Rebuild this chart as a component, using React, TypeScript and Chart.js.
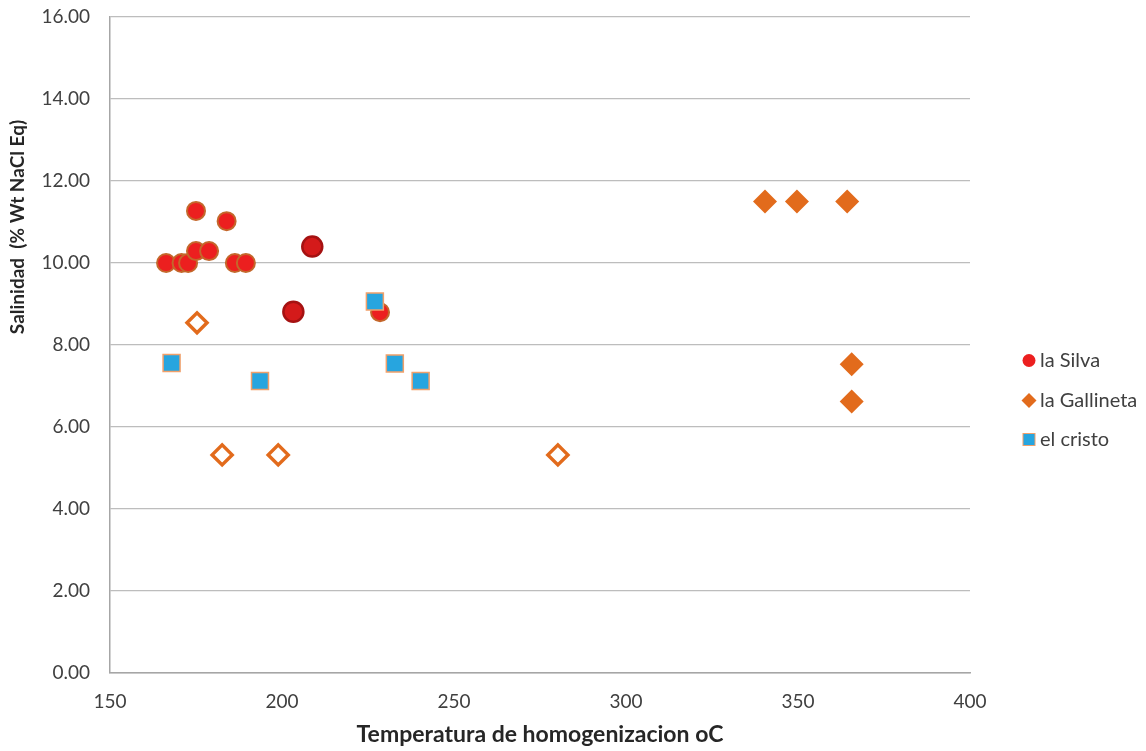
import { useEffect, useRef } from "react";
import { Chart, registerables } from "chart.js";

Chart.register(...registerables);

// la Silva
const silvaX = [166.3, 170.8, 172.7, 175.0, 183.9, 175.0, 178.8, 186.3, 189.5, 208.8, 203.3, 228.5];
const silvaY = [10.0, 10.0, 10.0, 11.27, 11.02, 10.29, 10.29, 10.0, 10.0, 10.4, 8.81, 8.8];
const silvaDark = [false, false, false, false, false, false, false, false, false, true, true, false];

// la Gallineta (filled and open diamonds)
const gallX = [340.4, 349.7, 364.3, 365.6, 365.6, 175.3, 182.6, 198.9, 280.2];
const gallY = [11.5, 11.5, 11.5, 7.53, 6.62, 8.54, 5.32, 5.32, 5.32];
const gallOpen = [false, false, false, false, false, true, true, true, true];

// el cristo
const cristoX = [167.9, 193.6, 227.0, 232.8, 240.3];
const cristoY = [7.56, 7.12, 9.06, 7.55, 7.12];

const seriesNames = ["la Silva", "la Gallineta", "el cristo"];
const xTitle = "Temperatura de homogenizacion oC";
const yTitle = "Salinidad  (% Wt NaCl Eq)";

const FONT = "Lato, 'Open Sans', sans-serif";
const RED = "#ec1f1f";
const RED_BORDER = "#c4672b";
const DARK_RED = "#d41a1a";
const DARK_RED_BORDER = "#a51212";
const ORANGE = "#e26b1c";
const BLUE = "#27a5df";
const BLUE_BORDER = "#f1a06a";

export default function App() {
  const ref = useRef<HTMLCanvasElement>(null);

  useEffect(() => {
    document.body.style.margin = "0";
    const canvas = ref.current!;

    const overlay = {
      id: "overlay",
      afterDraw(chart: any) {
        const ctx = chart.ctx as CanvasRenderingContext2D;
        const area = chart.chartArea;
        ctx.save();
        ctx.fillStyle = "#262626";
        ctx.textAlign = "center";
        ctx.textBaseline = "middle";
        ctx.font = `bold 23px ${FONT}`;
        ctx.fillText(xTitle, (area.left + area.right) / 2, 735);
        ctx.save();
        ctx.translate(18, 227);
        ctx.rotate(-Math.PI / 2);
        ctx.font = `bold 19px ${FONT}`;
        ctx.fillText(yTitle, 0, 0);
        ctx.restore();

        // legend
        const mx = 1029;
        const tx = 1040;
        const ys = [360.5, 400.5, 439.5];
        ctx.font = `20px ${FONT}`;
        ctx.textAlign = "left";
        ctx.fillStyle = "#404040";
        seriesNames.forEach((n, i) => ctx.fillText(n, tx, ys[i]));
        // circle
        ctx.beginPath();
        ctx.arc(mx, ys[0], 6.5, 0, Math.PI * 2);
        ctx.fillStyle = RED;
        ctx.fill();
        // diamond
        ctx.beginPath();
        ctx.moveTo(mx, ys[1] - 7.5);
        ctx.lineTo(mx + 7.5, ys[1]);
        ctx.lineTo(mx, ys[1] + 7.5);
        ctx.lineTo(mx - 7.5, ys[1]);
        ctx.closePath();
        ctx.fillStyle = ORANGE;
        ctx.fill();
        // square
        ctx.fillStyle = BLUE;
        ctx.fillRect(mx - 6, ys[2] - 6, 12, 12);
        ctx.strokeStyle = BLUE_BORDER;
        ctx.lineWidth = 1;
        ctx.strokeRect(mx - 6, ys[2] - 6, 12, 12);
        ctx.restore();
      },
    };

    const chart = new Chart(canvas, {
      type: "scatter",
      data: {
        datasets: [
          {
            label: seriesNames[2],
            data: cristoX.map((x, i) => ({ x, y: cristoY[i] })),
            pointStyle: "rect",
            pointRadius: 12,
            backgroundColor: BLUE,
            borderColor: BLUE_BORDER,
            borderWidth: 1.5,
            order: 0,
          },
          {
            label: seriesNames[1],
            data: gallX.map((x, i) => ({ x, y: gallY[i] })),
            pointStyle: "rectRot",
            pointRadius: gallOpen.map((o) => (o ? 10 : 12)),
            backgroundColor: gallOpen.map((o) => (o ? "#ffffff" : ORANGE)),
            borderColor: ORANGE,
            borderWidth: gallOpen.map((o) => (o ? 3.5 : 0)),
            order: 1,
          },
          {
            label: seriesNames[0],
            data: silvaX.map((x, i) => ({ x, y: silvaY[i] })),
            pointStyle: "circle",
            pointRadius: silvaDark.map((d) => (d ? 10 : 9)),
            backgroundColor: silvaDark.map((d) => (d ? DARK_RED : RED)),
            borderColor: silvaDark.map((d) => (d ? DARK_RED_BORDER : RED_BORDER)),
            borderWidth: silvaDark.map((d) => (d ? 2.5 : 2)),
            order: 2,
          },
        ] as any,
      },
      options: {
        animation: false,
        responsive: false,
        devicePixelRatio: 1,
        layout: { padding: { left: 0, right: 176, top: 17, bottom: 0 } },
        plugins: {
          legend: { display: false },
          tooltip: { enabled: false },
        },
        scales: {
          x: {
            type: "linear",
            min: 150,
            max: 400,
            afterFit: (s: any) => {
              s.height = 78;
              s.paddingLeft = 0;
              s.paddingRight = 0;
            },
            ticks: {
              stepSize: 50,
              padding: 17,
              color: "#404040",
              font: { family: FONT, size: 19 },
            },
            grid: { display: false, drawTicks: false },
            border: { display: true, color: "#a6a6a6", width: 1.5 },
          },
          y: {
            type: "linear",
            min: 0,
            max: 16,
            afterFit: (s: any) => {
              s.width = 110;
              s.paddingTop = 0;
              s.paddingBottom = 0;
            },
            ticks: {
              stepSize: 2,
              padding: 20,
              color: "#404040",
              font: { family: FONT, size: 19 },
              callback: (v: any) => Number(v).toFixed(2),
            },
            grid: { color: "#bdbdbd", lineWidth: 1.3, drawTicks: false },
            border: { display: true, color: "#a6a6a6", width: 1.5 },
          },
        },
      },
      plugins: [overlay],
    });

    return () => chart.destroy();
  }, []);

  return <canvas ref={ref} width={1146} height={751} style={{ display: "block" }} />;
}
